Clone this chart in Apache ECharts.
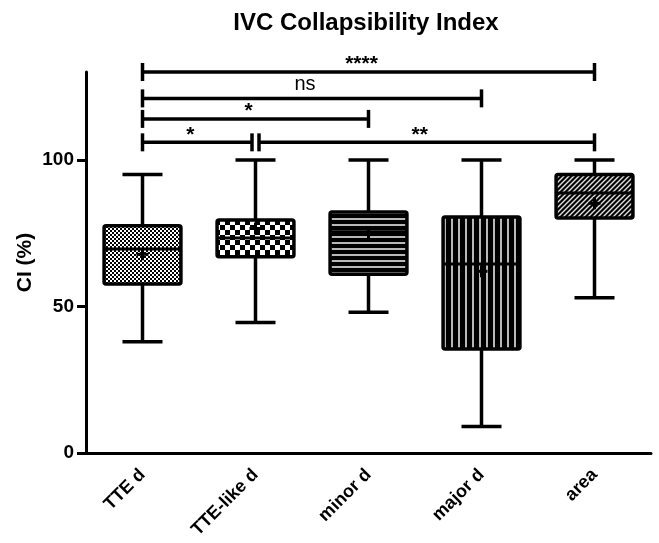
<!DOCTYPE html>
<html>
<head>
<meta charset="utf-8">
<script src="https://cdn.jsdelivr.net/npm/echarts@6/dist/echarts.min.js"></script>
<style>
  html, body { margin: 0; background: #fff; }
  #chart { width: 659px; height: 543px; }
</style>
</head>
<body>
<div id="chart"></div>
<script>
// values
const categories = ['TTE d', 'TTE-like d', 'minor d', 'major d', 'area'];
const whiskerMin = [38, 44.5, 48, 9, 53];
const q1 = [57.7, 67, 61, 35.5, 80.2];
const medians = [69.6, 73.4, 75.5, 64.5, 88.7];
const q3 = [77.5, 79.5, 82.2, 80.5, 95];
const whiskerMax = [95, 100, 100, 100, 100];
const means = [67.8, 76.6, 74.8, 62, 85.2];

// significance brackets
const bracketFrom = [0, 0, 0, 0, 1];
const bracketTo = [4, 3, 2, 1, 4];
const bracketY = [130, 121, 114, 106, 106];
const bracketLabels = ['****', 'ns', '*', '*', '**'];

const yTicks = [0, 50, 100];

const FONT = '"Liberation Sans", Arial, sans-serif';

function tile(w, h, draw) {
  const c = document.createElement('canvas');
  c.width = w; c.height = h;
  draw(c.getContext('2d'));
  return { image: c, repeat: 'repeat' };
}

const patterns = [
  // fine checker
  tile(4, 4, g => {
    g.fillStyle = '#fff'; g.fillRect(0, 0, 4, 4);
    g.fillStyle = '#000'; g.fillRect(0, 0, 2, 2); g.fillRect(2, 2, 2, 2);
  }),
  // coarse checker
  tile(10, 10, g => {
    g.fillStyle = '#000'; g.fillRect(0, 0, 10, 10);
    g.fillStyle = '#fff'; g.fillRect(0, 0, 5, 5); g.fillRect(5, 5, 5, 5);
  }),
  // horizontal lines
  tile(6, 6, g => {
    g.fillStyle = '#000'; g.fillRect(0, 0, 6, 6);
    g.fillStyle = '#b8b8b8'; g.fillRect(0, 2, 6, 2);
  }),
  // vertical lines
  tile(7, 7, g => {
    g.fillStyle = '#000'; g.fillRect(0, 0, 7, 7);
    g.fillStyle = '#b8b8b8'; g.fillRect(3, 0, 2, 7);
  }),
  // diagonal hatch
  tile(5, 5, g => {
    g.fillStyle = '#000'; g.fillRect(0, 0, 5, 5);
    g.strokeStyle = '#e0e0e0'; g.lineWidth = 1.4;
    g.beginPath();
    g.moveTo(-1, 6); g.lineTo(6, -1);
    g.moveTo(-1, 1); g.lineTo(1, -1);
    g.moveTo(4, 6); g.lineTo(6, 4);
    g.stroke();
  })
];

const boxData = categories.map((c, i) => [i, whiskerMin[i], q1[i], medians[i], q3[i], whiskerMax[i], means[i]]);
const bracketData = bracketFrom.map((f, i) => [f, bracketTo[i], bracketY[i], i]);

const line = (x1, y1, x2, y2, w) => ({
  type: 'line',
  shape: { x1, y1, x2, y2 },
  style: { stroke: '#000', lineWidth: w, lineCap: 'butt' }
});

function renderBox(params, api) {
  const i = api.value(0);
  const band = api.size([1, 0])[0];
  const half = band * 0.34;
  const capHalf = band * 0.177;
  const x = api.coord([i, 0])[0];
  const y = v => api.coord([i, v])[1];
  const yMin = y(api.value(1)), yQ1 = y(api.value(2)), yMed = y(api.value(3));
  const yQ3 = y(api.value(4)), yMax = y(api.value(5)), yMean = y(api.value(6));
  return {
    type: 'group',
    children: [
      line(x, yMax, x, yQ3, 3.5),
      line(x, yQ1, x, yMin, 3.5),
      line(x - capHalf, yMax, x + capHalf, yMax, 3.5),
      line(x - capHalf, yMin, x + capHalf, yMin, 3.5),
      {
        type: 'rect',
        shape: { x: x - half, y: yQ3, width: half * 2, height: yQ1 - yQ3, r: 2 },
        style: { fill: patterns[i], stroke: '#000', lineWidth: 3.5 }
      },
      line(x - half, yMed, x + half, yMed, 3),
      line(x - 6, yMean, x + 6, yMean, 3),
      line(x, yMean - 6, x, yMean + 6, 3)
    ]
  };
}

function renderBracket(params, api) {
  const f = api.value(0), t = api.value(1), v = api.value(2), k = api.value(3);
  const yy = api.coord([f, v])[1];
  let x1 = api.coord([f, v])[0];
  let x2 = api.coord([t, v])[0];
  // small gap where two brackets meet on the same level
  bracketFrom.forEach((f2, j) => {
    if (j === k || bracketY[j] !== v) return;
    if (bracketTo[j] === f) x1 += 3.5;
    if (f2 === t) x2 -= 3.5;
  });
  const stars = bracketLabels[k].indexOf('*') === 0;
  return {
    type: 'group',
    children: [
      line(x1, yy, x2, yy, 3.5),
      line(x1, yy - 9, x1, yy + 9, 3.5),
      line(x2, yy - 9, x2, yy + 9, 3.5),
      {
        type: 'text',
        style: {
          x: (x1 + x2) / 2 - 7,
          y: stars ? yy + 3 : yy - 4,
          text: bracketLabels[k],
          fill: '#000',
          font: (stars ? 'bold 21px ' : '20px ') + FONT,
          align: 'center',
          verticalAlign: 'bottom'
        }
      }
    ]
  };
}

const chart = echarts.init(document.getElementById('chart'));
chart.setOption({
  backgroundColor: '#fff',
  animation: false,
  title: {
    text: 'IVC Collapsibility Index',
    left: 361,
    top: 6,
    textAlign: 'center',
    textStyle: { fontFamily: FONT, fontWeight: 'bold', fontSize: 24, color: '#000' }
  },
  grid: { left: 86, right: 8, top: 72, bottom: 90 },
  xAxis: {
    type: 'category',
    data: categories,
    axisLine: { lineStyle: { color: '#000', width: 3 } },
    axisTick: { alignWithLabel: true, length: 9, lineStyle: { color: '#000', width: 3 } },
    axisLabel: {
      rotate: 45, margin: 19, color: '#000',
      fontFamily: FONT, fontWeight: 'bold', fontSize: 18
    }
  },
  yAxis: {
    type: 'value',
    min: 0,
    max: 130,
    name: 'CI (%)',
    nameLocation: 'middle',
    nameRotate: 90,
    nameGap: 50,
    nameMoveOverlap: false,
    nameTextStyle: { fontFamily: FONT, fontWeight: 'bold', fontSize: 21, color: '#000' },
    splitLine: { show: false },
    axisLine: { show: true, lineStyle: { color: '#000', width: 3 } },
    axisTick: { show: true, length: 9, customValues: yTicks, lineStyle: { color: '#000', width: 3 } },
    axisLabel: {
      customValues: yTicks, margin: 12, color: '#000',
      fontFamily: FONT, fontWeight: 'bold', fontSize: 19
    }
  },
  series: [
    {
      type: 'custom',
      clip: false,
      renderItem: renderBox,
      encode: { x: 0, y: [1, 5] },
      data: boxData
    },
    {
      type: 'custom',
      clip: false,
      renderItem: renderBracket,
      encode: { x: 0, y: 2 },
      data: bracketData
    }
  ]
});
</script>
</body>
</html>
